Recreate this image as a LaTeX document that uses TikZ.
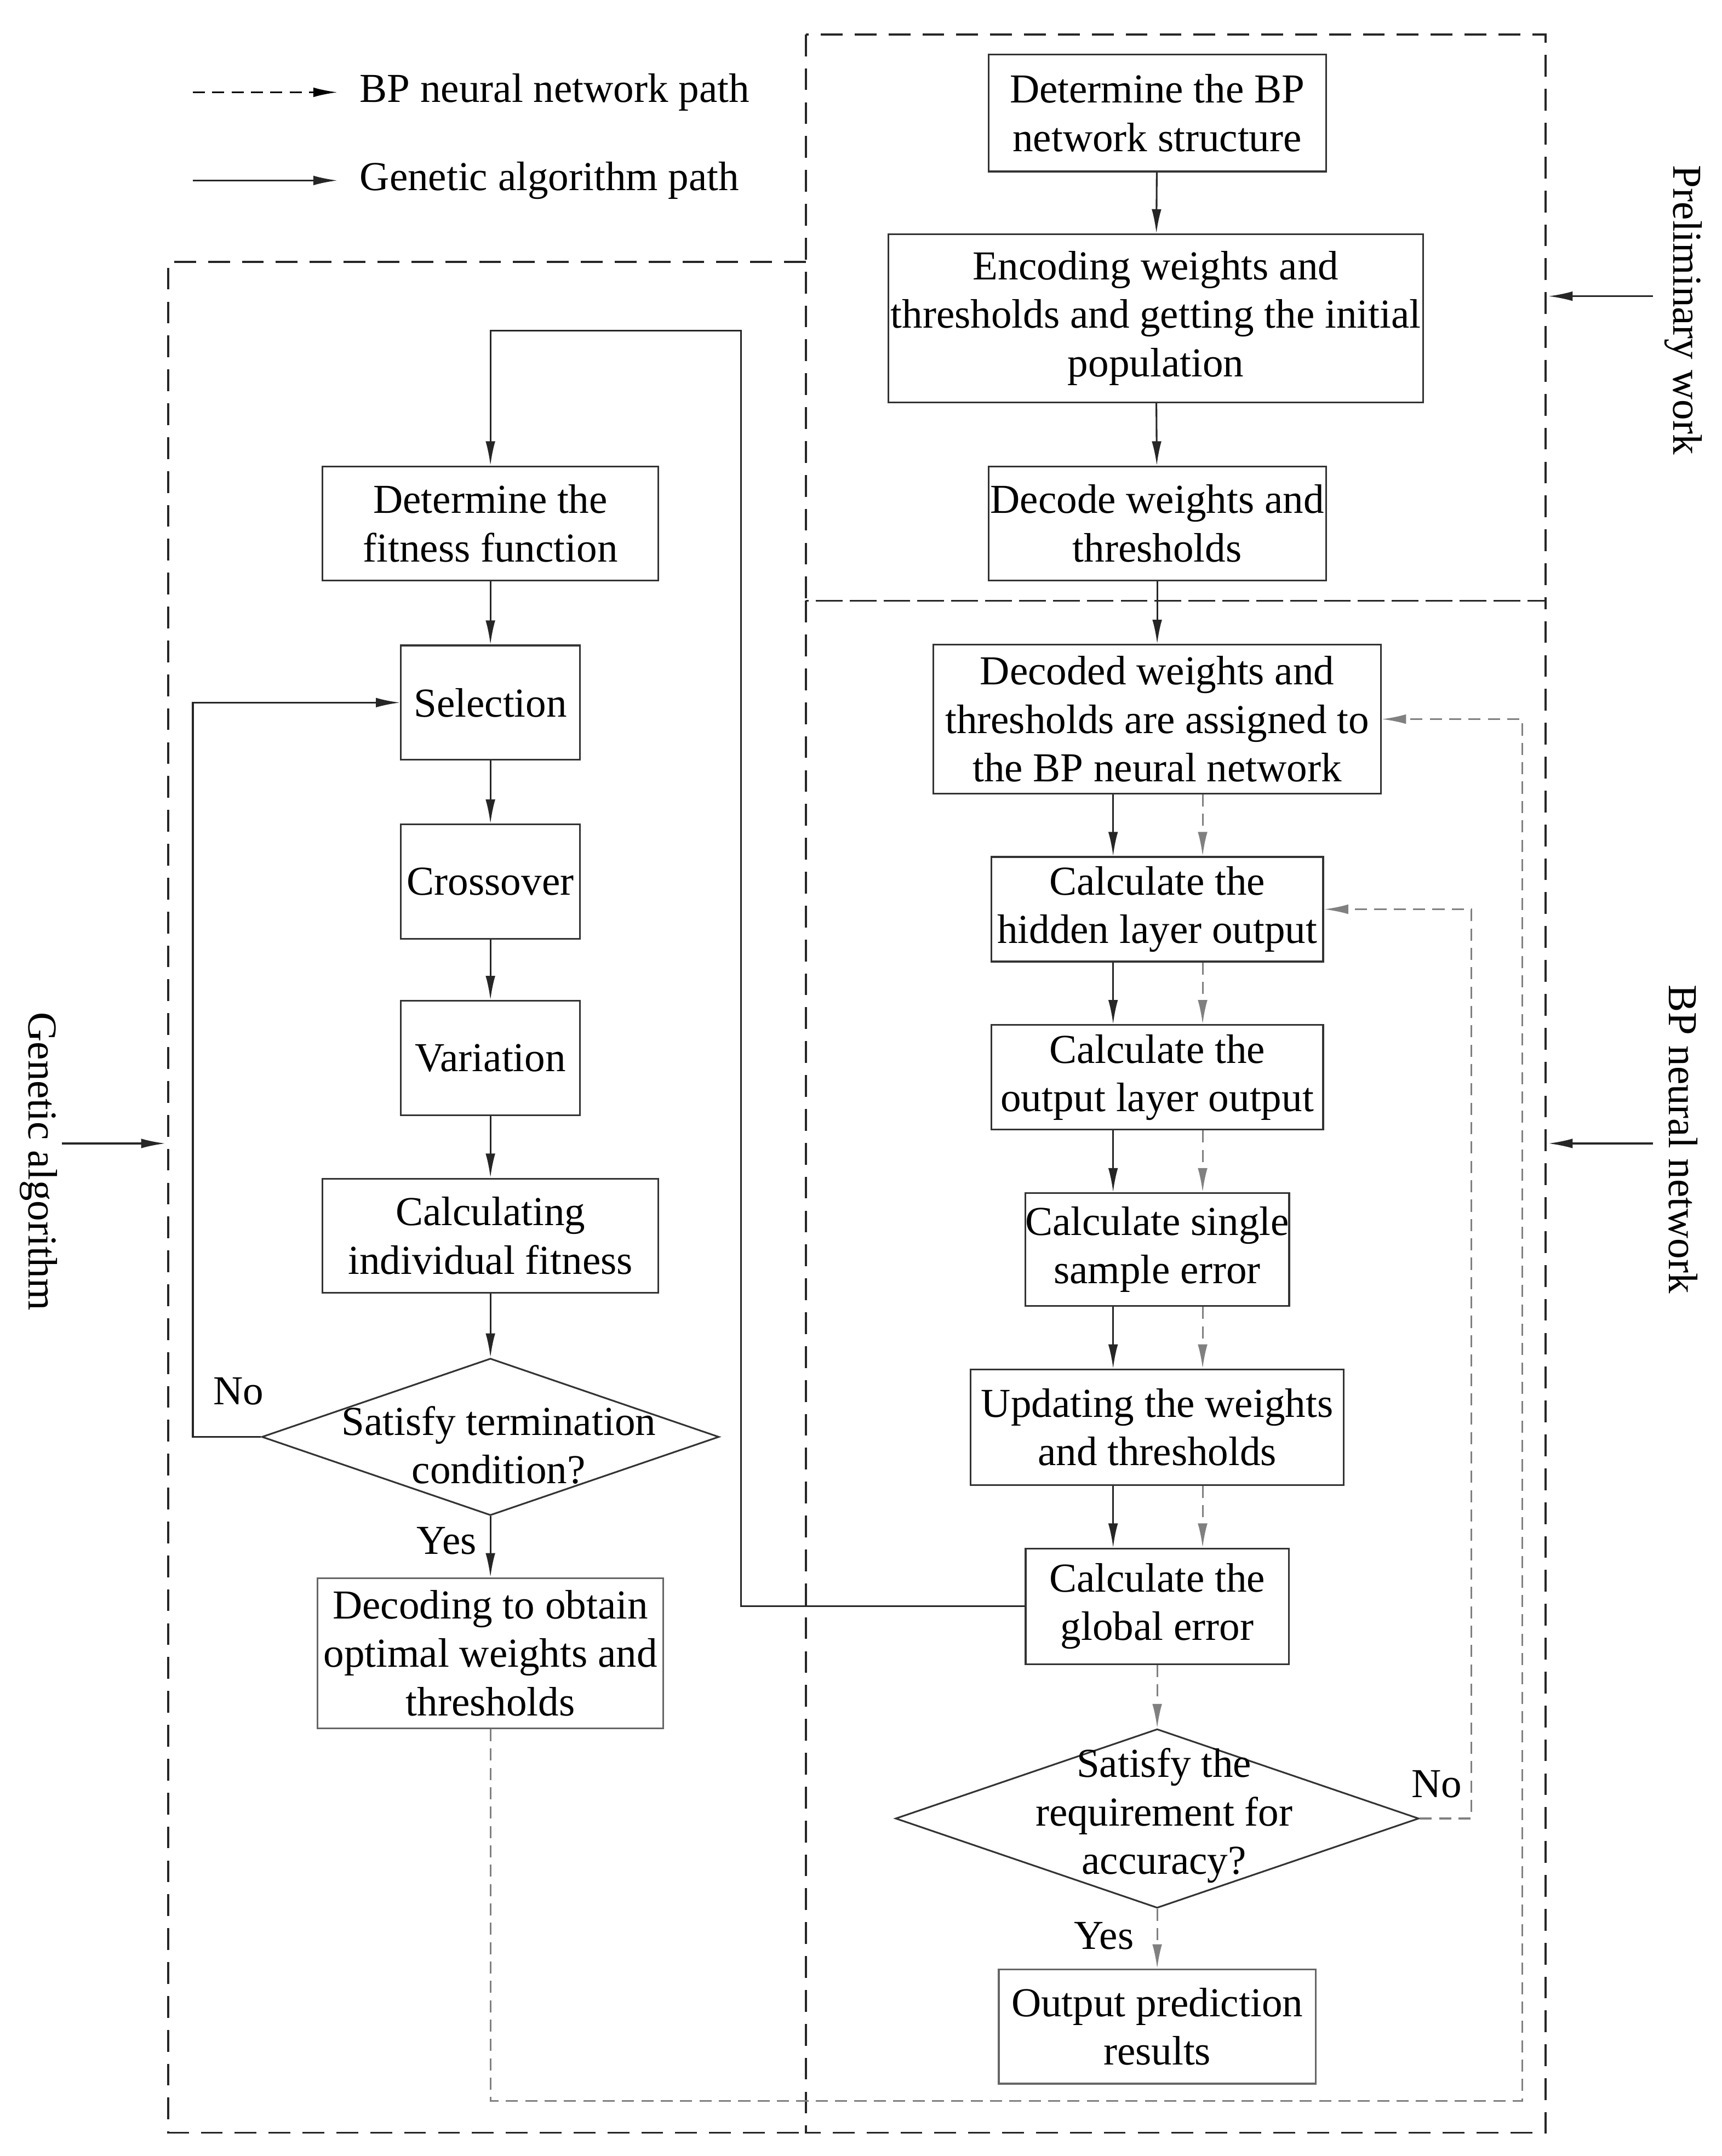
\documentclass[tikz,border=0pt]{standalone}
\usepackage{fontspec}
\setmainfont{Liberation Serif}
\usetikzlibrary{arrows.meta,shapes.geometric}

\tikzset{
  box/.style={draw=black!80,line width=0.7pt,align=center,inner sep=0pt},
  dia/.style={draw=black!80,line width=0.7pt,diamond,inner sep=0pt},
  sol/.style={-{Latex[length=10pt,width=4pt]},line width=0.7pt,draw=black!85},
  bpp/.style={-{Latex[length=10pt,width=4pt]},line width=0.7pt,draw=gray,dash pattern=on 5pt off 3pt},
  region/.style={line width=0.8pt,draw=black!85,dash pattern=on 9pt off 5pt},
  side/.style={rotate=-90,anchor=center}
}

\begin{document}
\begin{tikzpicture}[x=0.02cm,y=-0.02cm,font=\fontsize{17}{20}\selectfont]
  \useasboundingbox (0,0) rectangle (1250,1565);

  % regions
  \draw[region] (585,25) rectangle (1122,436);
  \draw[region] (585,436) rectangle (1122,1548);
  \draw[region] (585,190) -- (122,190) -- (122,1548) -- (585,1548);

  % legend
  \coordinate (la1) at (140,67);  \coordinate (la2) at (245,67);
  \coordinate (lb1) at (140,131); \coordinate (lb2) at (245,131);
  \draw[-{Latex[length=10pt,width=4pt]},line width=0.7pt,dash pattern=on 5pt off 3pt] (la1) -- (la2);
  \draw[sol] (lb1) -- (lb2);
  \node[anchor=west] (leg1) at (255,67) {BP neural network path};
  \node[anchor=west] (leg2) at (255,131) {Genetic algorithm path};

  % side labels
  \node[side] (pw) at (1222,225) {Preliminary work};
  \node[side] (bn) at (1222,827) {BP neural network};
  \node[side] (ga) at (28,843) {Genetic algorithm};
  \coordinate (sa) at (1200,215); \coordinate (sb) at (1200,830); \coordinate (sc) at (45,830);
  \draw[sol] (sa) -- (1124,215);
  \draw[sol] (sb) -- (1124,830);
  \draw[sol] (sc) -- (120,830);

  % BP side
  \node[box,minimum width=4.9cm,minimum height=1.7cm] (n1) at (840,82) {Determine the BP\\network structure};
  \node[box,minimum width=7.76cm,minimum height=2.44cm] (n2) at (839,231) {Encoding weights and\\thresholds and getting the initial\\population};
  \node[box,minimum width=4.9cm,minimum height=1.66cm] (n3) at (840,380) {Decode weights and\\thresholds};
  \node[box,minimum width=6.5cm,minimum height=2.16cm] (n4) at (840,522) {Decoded weights and\\thresholds are assigned to\\the BP neural network};
  \node[box,minimum width=4.82cm,minimum height=1.52cm] (n5) at (840,660) {Calculate the\\hidden layer output};
  \node[box,minimum width=4.82cm,minimum height=1.52cm] (n6) at (840,782) {Calculate the\\output layer output};
  \node[box,minimum width=3.82cm,minimum height=1.64cm] (n7) at (840,907) {Calculate single\\sample error};
  \node[box,minimum width=5.42cm,minimum height=1.68cm] (n8) at (840,1036) {Updating the weights\\and thresholds};
  \node[box,minimum width=3.82cm,minimum height=1.68cm] (n9) at (840,1166) {Calculate the\\global error};
  \node[dia,minimum width=7.6cm,minimum height=2.6cm] (d2) at (840,1320) {};
  \node[align=center] (d2t) at (845,1318) {Satisfy the\\requirement for\\accuracy?};
  \node[box,draw=black!60,minimum width=4.6cm,minimum height=1.66cm] (n10) at (840,1471) {Output prediction\\results};

  % GA side
  \node[box,minimum width=4.88cm,minimum height=1.66cm] (g1) at (356,380) {Determine the\\fitness function};
  \node[box,minimum width=2.6cm,minimum height=1.66cm] (g2) at (356,510) {Selection};
  \node[box,minimum width=2.6cm,minimum height=1.66cm] (g3) at (356,640) {Crossover};
  \node[box,minimum width=2.6cm,minimum height=1.66cm] (g4) at (356,768) {Variation};
  \node[box,minimum width=4.88cm,minimum height=1.66cm] (g5) at (356,897) {Calculating\\individual fitness};
  \node[dia,minimum width=6.64cm,minimum height=2.28cm] (d1) at (356,1043) {};
  \node[align=center] (d1t) at (362,1049) {Satisfy termination\\condition?};
  \node[box,draw=black!60,minimum width=5.02cm,minimum height=2.18cm] (g6) at (356,1200) {Decoding to obtain\\optimal weights and\\thresholds};

  % GA path
  \draw[sol] (n1) -- (n2);
  \draw[sol] (n2) -- (n3);
  \draw[sol] (n3) -- (n4);
  \foreach \a/\b in {n4/n5,n5/n6,n6/n7,n7/n8,n8/n9} {
    \draw[sol] ([xshift=-0.64cm]\a.south) -- ([xshift=-0.64cm]\b.north);
    \draw[bpp] ([xshift=0.66cm]\a.south) -- ([xshift=0.66cm]\b.north);
  }
  \coordinate (c1) at (538,240);
  \draw[sol] (n9.west) -| (c1) -| (g1.north);
  \draw[sol] (g1) -- (g2);
  \draw[sol] (g2) -- (g3);
  \draw[sol] (g3) -- (g4);
  \draw[sol] (g4) -- (g5);
  \draw[sol] (g5) -- (d1);
  \draw[sol] (d1) -- (g6) node[pos=0.4,left=2pt] (y1) {Yes};
  \coordinate (c2) at (140,1043);
  \draw[sol] (d1.west) -- (c2) |- (g2.west);
  \node (no1) at (173,1010) {No};

  % BP path
  \draw[bpp] (n9) -- (d2);
  \draw[bpp] (d2) -- (n10) node[pos=0.45,left=6pt] (y2) {Yes};
  \coordinate (c3) at (1068,1320);
  \draw[bpp] (d2.east) -- (c3) |- (n5.east);
  \node (no2) at (1043,1295) {No};
  \coordinate (c4) at (356,1525);
  \coordinate (c5) at (1105,1525);
  \draw[bpp] (g6.south) -- (c4) -- (c5) |- (n4.east);
\end{tikzpicture}
\end{document}
